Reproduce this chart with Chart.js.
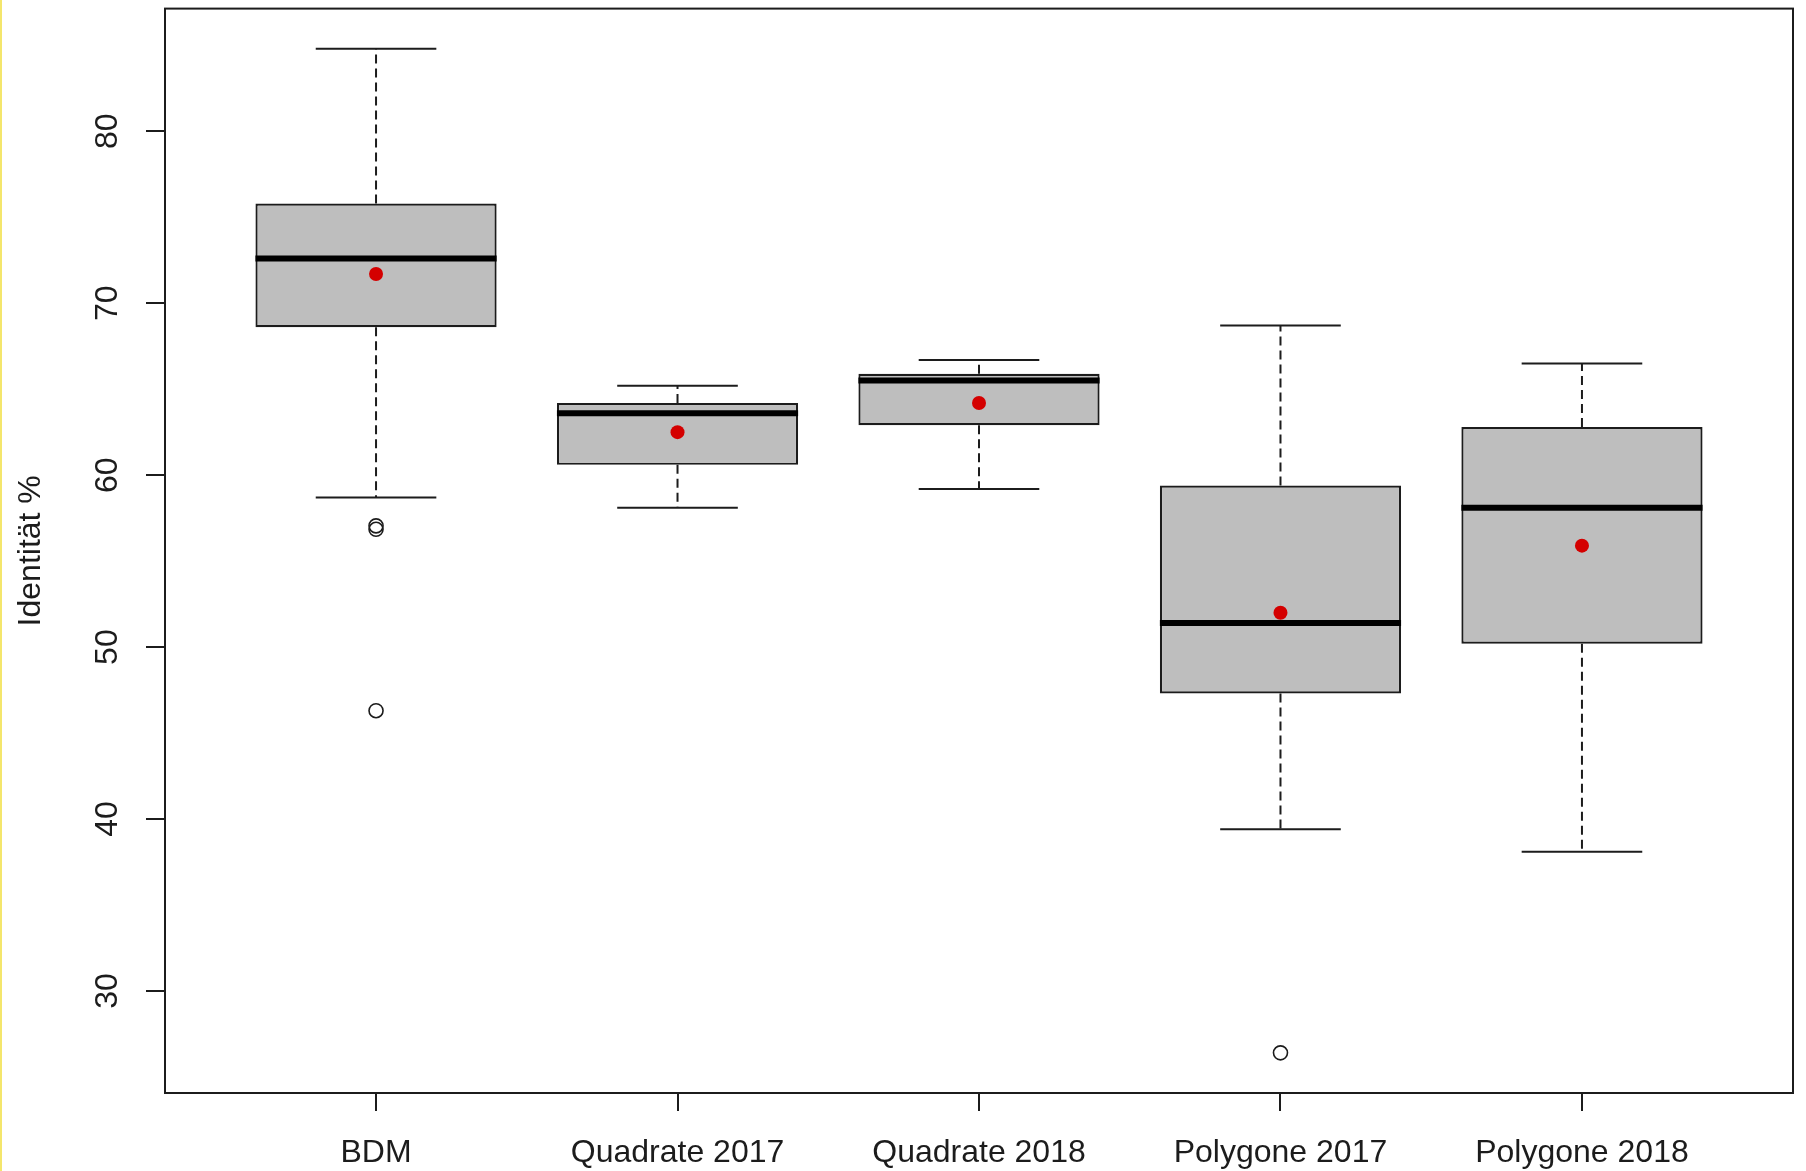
<!DOCTYPE html>
<html>
<head>
<meta charset="utf-8">
<title>Identität %</title>
<script src="https://cdn.jsdelivr.net/npm/chart.js@4.4.1/dist/chart.umd.min.js"></script>
<style>
  html, body { margin: 0; padding: 0; background: #ffffff; }
  #wrap { position: relative; width: 1806px; height: 1171px; overflow: hidden; }
  #edge { position: absolute; left: 0; top: 0; width: 2px; height: 1171px; background: #f4e66c; }
  canvas { display: block; }
</style>
</head>
<body>
<div id="wrap">
  <canvas id="chart" width="1806" height="1171" style="width:1806px;height:1171px"></canvas>
  <div id="edge"></div>
</div>
<script>
// Groups along the x axis
const categories = ['BDM', 'Quadrate 2017', 'Quadrate 2018', 'Polygone 2017', 'Polygone 2018'];

// Five-number summaries per group (identity in %)
const lowerWhisker  = [58.7, 58.1, 59.2, 39.4, 38.1];
const lowerQuartile = [68.6, 60.6, 62.9, 47.3, 50.2];
const medians       = [72.6, 63.6, 65.5, 51.4, 58.1];
const upperQuartile = [75.8, 64.2, 65.9, 59.4, 62.8];
const upperWhisker  = [84.8, 65.2, 66.7, 68.7, 66.5];

// Group means (red dots)
const means = [71.7, 62.5, 64.2, 52.0, 55.9];

// Outliers: group number (1-based) and value
const outlierGroup  = [1, 1, 1, 4];
const outlierValues = [57.05, 56.85, 46.3, 26.4];

// Tick values on the y axis
const yTicks = [30, 40, 50, 60, 70, 80];

// Axis ranges: data range widened by 4 % on each side
const allValues = lowerWhisker.concat(upperWhisker, outlierValues);
const dataMin = Math.min(...allValues);
const dataMax = Math.max(...allValues);
const pad = (dataMax - dataMin) * 0.04;
const xMin = 0.5 - categories.length * 0.04;
const xMax = categories.length + 0.5 + categories.length * 0.04;

const INK = '#1c1c1c';
Chart.defaults.font.family = "'Liberation Sans', Arial, sans-serif";
Chart.defaults.color = INK;

const boxPlugin = {
  id: 'boxWhiskers',
  beforeDatasetsDraw(chart) {
    const ctx = chart.ctx;
    const y = chart.scales.y;
    const boxes = chart.getDatasetMeta(0).data;
    ctx.save();
    ctx.strokeStyle = INK;
    ctx.lineWidth = 2;
    boxes.forEach((bar, i) => {
      const cx = bar.x;
      const half = bar.width / 4;
      // dashed whiskers
      ctx.setLineDash([9, 5]);
      ctx.beginPath();
      ctx.moveTo(cx, y.getPixelForValue(upperQuartile[i]));
      ctx.lineTo(cx, y.getPixelForValue(upperWhisker[i]));
      ctx.moveTo(cx, y.getPixelForValue(lowerQuartile[i]));
      ctx.lineTo(cx, y.getPixelForValue(lowerWhisker[i]));
      ctx.stroke();
      // whisker caps
      ctx.setLineDash([]);
      ctx.beginPath();
      const top = y.getPixelForValue(upperWhisker[i]);
      const bot = y.getPixelForValue(lowerWhisker[i]);
      ctx.moveTo(cx - half, top); ctx.lineTo(cx + half, top);
      ctx.moveTo(cx - half, bot); ctx.lineTo(cx + half, bot);
      ctx.stroke();
    });
    ctx.restore();
  },
  afterDatasetDraw(chart, args) {
    if (args.index !== 0) return;
    const ctx = chart.ctx;
    const y = chart.scales.y;
    ctx.save();
    ctx.strokeStyle = '#000000';
    ctx.lineWidth = 6;
    chart.getDatasetMeta(0).data.forEach((bar, i) => {
      const py = y.getPixelForValue(medians[i]);
      ctx.beginPath();
      ctx.moveTo(bar.x - bar.width / 2, py);
      ctx.lineTo(bar.x + bar.width / 2, py);
      ctx.stroke();
    });
    ctx.restore();
  },
  afterDraw(chart) {
    const a = chart.chartArea;
    const ctx = chart.ctx;
    ctx.save();
    ctx.strokeStyle = INK;
    ctx.lineWidth = 2;
    ctx.strokeRect(a.left, a.top, a.right - a.left, a.bottom - a.top);
    ctx.restore();
  }
};

new Chart(document.getElementById('chart'), {
  type: 'bar',
  data: {
    datasets: [
      {
        type: 'bar',
        data: categories.map((c, i) => ({ x: i + 1, y: [lowerQuartile[i], upperQuartile[i]] })),
        backgroundColor: '#bebebe',
        borderColor: INK,
        borderWidth: 2.2,
        borderSkipped: false,
        categoryPercentage: 1,
        barPercentage: 0.8,
        order: 3
      },
      {
        type: 'scatter',
        data: outlierValues.map((v, i) => ({ x: outlierGroup[i], y: v })),
        pointStyle: 'circle',
        pointRadius: 7,
        backgroundColor: 'rgba(0,0,0,0)',
        borderColor: INK,
        borderWidth: 1.6,
        order: 2
      },
      {
        type: 'scatter',
        data: means.map((v, i) => ({ x: i + 1, y: v })),
        pointStyle: 'circle',
        pointRadius: 7,
        backgroundColor: '#d40000',
        borderColor: '#d40000',
        borderWidth: 0,
        order: 1
      }
    ]
  },
  options: {
    responsive: false,
    devicePixelRatio: 1,
    animation: false,
    events: [],
    layout: { padding: { top: 7, right: 13, left: 0, bottom: 0 } },
    plugins: { legend: { display: false }, tooltip: { enabled: false } },
    scales: {
      x: {
        type: 'linear',
        min: xMin,
        max: xMax,
        offset: false,
        afterBuildTicks: s => { s.ticks = categories.map((c, i) => ({ value: i + 1 })); },
        afterFit: s => { s.height = 78; s.paddingLeft = 0; s.paddingRight = 0; },
        ticks: {
          autoSkip: false,
          maxRotation: 0,
          minRotation: 0,
          padding: 23,
          font: { size: 32 },
          color: INK,
          callback: v => categories[Math.round(v) - 1]
        },
        grid: { offset: false, drawOnChartArea: false, drawTicks: true, tickLength: 18, color: INK, lineWidth: 2 },
        border: { display: false }
      },
      y: {
        type: 'linear',
        min: dataMin - pad,
        max: dataMax + pad,
        beginAtZero: false,
        afterBuildTicks: s => { s.ticks = yTicks.map(v => ({ value: v })); },
        afterFit: s => { s.width = 165; s.paddingTop = 0; s.paddingBottom = 0; },
        ticks: {
          autoSkip: false,
          minRotation: 90,
          maxRotation: 90,
          crossAlign: 'center',
          padding: 20,
          font: { size: 32 },
          color: INK
        },
        grid: { drawOnChartArea: false, drawTicks: true, tickLength: 19, color: INK, lineWidth: 2 },
        border: { display: false },
        title: {
          display: true,
          text: 'Identität %',
          font: { size: 32 },
          color: INK,
          padding: { top: 12, bottom: 0 }
        }
      }
    }
  },
  plugins: [boxPlugin]
});
</script>
</body>
</html>
